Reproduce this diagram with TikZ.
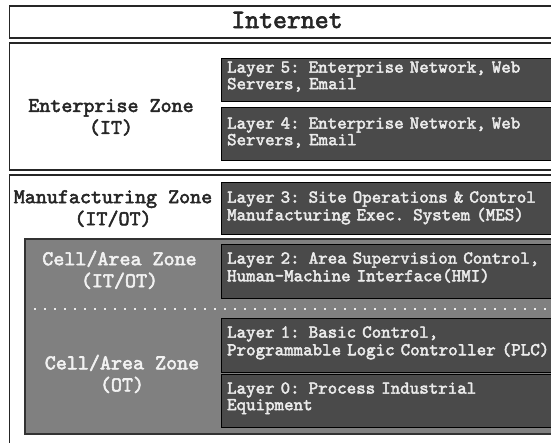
\documentclass[tikz,border=0pt]{standalone}
\usepackage{fontspec}
\newfontfamily\typefont{lmmono10-regular.otf}[FakeBold=2.5]
\definecolor{layerfill}{HTML}{4A4A4A}
\definecolor{cellfill}{HTML}{808080}
\definecolor{layertext}{HTML}{EBEBEB}
\AtBeginDocument{\lineskiplimit=-20pt\relax}

\begin{document}
\begin{tikzpicture}[x=1pt, y=-1pt,
    zone/.style={draw=black!85, line width=1.2pt, fill=white},
    layerbox/.style 2 args={draw=black, line width=1.2pt, fill=layerfill, text=layertext,
        anchor=north west, align=left, text width=350pt, inner xsep=6pt, inner ysep=0pt,
        font=\typefont\fontsize{18.1}{16.6}\selectfont,
        execute at begin node={\rule{0pt}{#2}},
        execute at end node={\rule[-\dimexpr #1-#2-16.6pt\relax]{0pt}{\dimexpr #1-#2-16.6pt\relax}}},
    zonelabel/.style={align=center, text=black!85,
        font=\typefont\fontsize{21}{22}\selectfont}]
    \useasboundingbox (0,0) rectangle (551,442);
    \clip (0,0) rectangle (551,442);
    \fill[white] (0,0) rectangle (551,442);

    % Internet
    \draw[zone] (9.5,6) rectangle (570,38);
    \node[zonelabel, anchor=base, font=\typefont\fontsize{26.5}{24}\selectfont] (internet) at (287,28) {Internet};

    % Enterprise Zone
    \draw[zone] (9.5,43) rectangle (570,170);
    \node[zonelabel] (entzone) at (111,117.4) {Enterprise Zone\\(IT)};
    \node[layerbox={43pt}{14pt}] (layer5) at (220.5,58) {Layer 5: Enterprise Network, Web\\Servers, Email};
    \node[layerbox={53pt}{21pt}] (layer4) at (220.5,107) {Layer 4: Enterprise Network, Web\\Servers, Email};

    % Manufacturing Zone
    \draw[zone] (9.5,175) rectangle (570,470);
    \node[zonelabel] (mfgzone) at (113,208.6) {Manufacturing Zone\\(IT/OT)};
    \node[layerbox={51pt}{20pt}] (layer3) at (220.5,182) {Layer 3: Site Operations \& Control\\Manufacturing Exec. System (MES)};

    % Cell/Area Zone
    \draw[draw=black!80, line width=1.6pt, fill=cellfill] (25,239) rectangle (570,434);
    \node[zonelabel, text=white!95!black] (cellit) at (119.5,269.8) {Cell/Area Zone\\(IT/OT)};
    \node[layerbox={53pt}{19pt}] (layer2) at (220.5,244) {Layer 2: Area Supervision Control,\\Human-Machine Interface(HMI)};
    \draw[white!92!black, line width=2pt, dash pattern=on 2pt off 8pt] (34,309) -- (560,309);
    \node[zonelabel, text=white!95!black] (cellot) at (122,373.9) {Cell/Area Zone\\(OT)};
    \node[layerbox={53pt}{19pt}] (layer1) at (220.5,318) {Layer 1: Basic Control,\\Programmable Logic Controller (PLC)};
    \node[layerbox={53pt}{19pt}] (layer0) at (220.5,374) {Layer 0: Process Industrial\\Equipment};
\end{tikzpicture}
\end{document}
